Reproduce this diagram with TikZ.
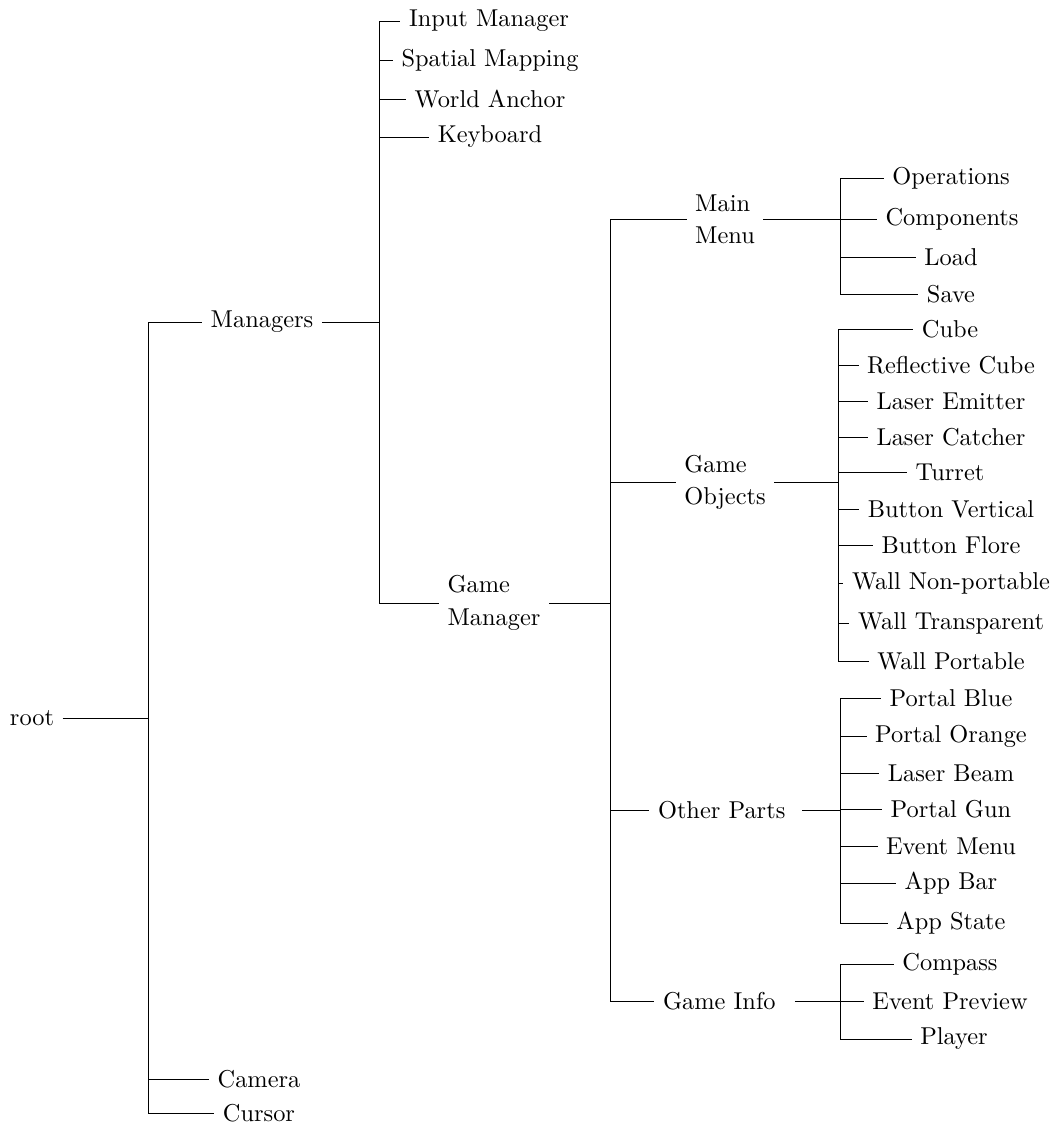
\documentclass[tikz,border=0pt]{standalone}
\begin{document}
\begin{tikzpicture}[x=0.41pt,y=-0.41pt]
\tikzset{lbl/.style={inner sep=3.33pt, anchor=center},
         two/.style={lbl, align=left},
         edge/.style={draw, line width=0.4pt}}
\useasboundingbox (0,0) rectangle (1054,1124);
% level 0
\node[lbl] (root) at (32,718) {root};
% level 1
\node[lbl] (mgr) at (262,322) {Managers};
\node[lbl] (cam) at (259,1079) {Camera};
\node[lbl] (cur) at (259,1113) {Cursor};
% level 2
\node[lbl] (inp) at (489,21) {Input Manager};
\node[lbl] (spa) at (490,60) {Spatial Mapping};
\node[lbl] (wan) at (490,99) {World Anchor};
\node[lbl] (key) at (490,137) {Keyboard};
\node[two] (gm) at (494,603) {Game\\[1.2pt]Manager};
% level 3
\node[two] (mm) at (725,219) {Main\\[1.2pt]Menu};
\node[two] (go) at (725,482) {Game\\[1.2pt]Objects};
\node[two, text width=55.5pt] (op) at (725.7,810) {Other Parts};
\node[two, text width=50.5pt] (gi) at (724.6,1001) {Game Info};
% level 4 - main menu
\node[lbl] (ops) at (951,178) {Operations};
\node[lbl] (com) at (952,219) {Components};
\node[lbl] (loa) at (951,257) {Load};
\node[lbl] (sav) at (951,294) {Save};
% level 4 - game objects
\node[lbl] (cub) at (950,329) {Cube};
\node[lbl] (rcu) at (951,365) {Reflective Cube};
\node[lbl] (lem) at (951,401) {Laser Emitter};
\node[lbl] (lca) at (951,437) {Laser Catcher};
\node[lbl] (tur) at (950,472) {Turret};
\node[lbl] (bve) at (951,509) {Button Vertical};
\node[lbl] (bfl) at (951,545) {Button Flore};
\node[lbl] (wnp) at (951,583) {Wall Non-portable};
\node[lbl] (wtr) at (951,623) {Wall Transparent};
\node[lbl] (wpo) at (951,661) {Wall Portable};
% level 4 - other parts
\node[lbl] (pbl) at (951,698) {Portal Blue};
\node[lbl] (por) at (951,736) {Portal Orange};
\node[lbl] (lbe) at (951,773) {Laser Beam};
\node[lbl] (pgu) at (951,809) {Portal Gun};
\node[lbl] (eme) at (951,846) {Event Menu};
\node[lbl] (aba) at (951,883) {App Bar};
\node[lbl] (ast) at (951,923) {App State};
% level 4 - game info
\node[lbl] (cmp) at (950,964) {Compass};
\node[lbl] (epr) at (950,1001) {Event Preview};
\node[lbl] (ply) at (954,1039) {Player};
% forks
\coordinate (rootf) at (148,718);
\coordinate (mgrf) at (379,322);
\coordinate (gmf) at (610,603);
\coordinate (mmf) at (840,219);
\coordinate (gof) at (838,482);
\coordinate (opf) at (840,810);
\coordinate (gif) at (840,1001);
% edges
\path[edge] (root.east) -- (rootf);
\foreach \c in {mgr,cam,cur} \path[edge] (rootf) |- (\c.west);
\path[edge] (mgr.east) -- (mgrf);
\foreach \c in {inp,spa,wan,key,gm} \path[edge] (mgrf) |- (\c.west);
\path[edge] (gm.east) -- (gmf);
\foreach \c in {mm,go,op,gi} \path[edge] (gmf) |- (\c.west);
\path[edge] (mm.east) -- (mmf);
\foreach \c in {ops,com,loa,sav} \path[edge] (mmf) |- (\c.west);
\path[edge] (go.east) -- (gof);
\foreach \c in {cub,rcu,lem,lca,tur,bve,bfl,wnp,wtr,wpo} \path[edge] (gof) |- (\c.west);
\path[edge] (op.east) -- (opf);
\foreach \c in {pbl,por,lbe,pgu,eme,aba,ast} \path[edge] (opf) |- (\c.west);
\path[edge] (gi.east) -- (gif);
\foreach \c in {cmp,epr,ply} \path[edge] (gif) |- (\c.west);
\end{tikzpicture}
\end{document}
